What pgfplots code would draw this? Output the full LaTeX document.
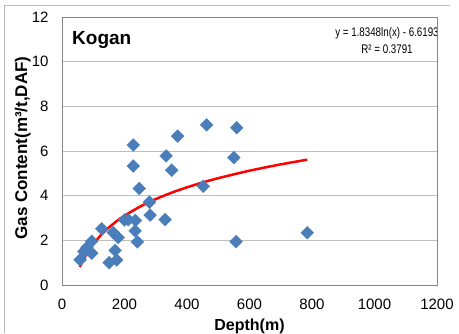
\documentclass[border=0pt]{standalone}
\usepackage{fontspec}
\setmainfont{Liberation Sans}
\newfontfamily\eqfont{Liberation Sans}[FakeStretch=0.78]
\usepackage{pgfplots}
\pgfplotsset{compat=1.18}
\definecolor{ptblue}{RGB}{74,126,187}
\definecolor{gridgray}{RGB}{190,190,190}
\definecolor{axgray}{RGB}{134,134,134}

\begin{document}
\begin{tikzpicture}
\path[use as bounding box] (-62pt,-48pt) rectangle (397pt,285pt);
% outer chart frame (only top and left are visible in the reference)
\draw[gray!55, line width=0.8pt] (388pt,280pt) -- (-58pt,280pt) -- (-58pt,-48pt);
\begin{axis}[
  scale only axis, width=375pt, height=268pt,
  xmin=0, xmax=1200, ymin=0, ymax=12,
  xtick={0,200,...,1200}, ytick={0,2,...,12},
  scaled ticks=false,
  /pgf/number format/1000 sep={},
  /pgf/number format/assume math mode=true,
  major tick length=0pt,
  ymajorgrids, grid style={gridgray, line width=0.8pt},
  axis line style={axgray, line width=0.8pt},
  ticklabel style={font=\fontsize{15}{18}\selectfont},
  xticklabel style={yshift=-10pt},
  yticklabel style={xshift=-10pt},
  xlabel={Depth(m)},
  ylabel={Gas Content(m³/t,DAF)},
  xlabel style={at={(rel axis cs:0.5,-0.168)}, anchor=base, font=\bfseries\fontsize{16}{19}\selectfont},
  ylabel style={at={(rel axis cs:-0.0933,0.511)}, anchor=base, font=\bfseries\fontsize{17}{20}\selectfont},
]
\addplot[only marks, mark=square*, mark size=4.5pt,
  mark options={rotate=45, fill=ptblue, draw=ptblue}] coordinates {
  (58,1.13) (70,1.50) (80,1.68) (95,1.96) (95,1.42)
  (127,2.52) (151,1.00) (164,2.35) (170,1.55) (175,1.12)
  (180,2.13) (200,2.91) (212,2.92) (235,2.89) (234,2.42)
  (241,1.93) (228,5.33) (228,6.27) (247,4.32) (280,3.71)
  (282,3.13) (330,2.93) (333,5.78) (351,5.14) (370,6.67)
  (452,4.42) (463,7.17) (550,5.70) (557,1.94) (559,7.04)
  (785,2.34)
};
% logarithmic trendline, values
\addplot[red, line width=2.5pt, no marks, smooth] coordinates {
  (57,0.799) (70,1.176) (85,1.532) (100,1.830) (125,2.240)
  (150,2.574) (175,2.857) (200,3.102) (250,3.512) (300,3.846)
  (350,4.129) (400,4.374) (450,4.590) (500,4.783) (600,5.118)
  (700,5.401) (785,5.611)
};
\node[anchor=base west, inner sep=0pt, font=\bfseries\fontsize{19}{22}\selectfont]
  at (axis cs:32,10.79) {Kogan};
\node[anchor=north, inner sep=0pt, align=center, font=\eqfont\fontsize{12.5}{17}\selectfont]
  at (axis cs:1040,11.56) {y = 1.8348ln(x) - 6.6193\\R² = 0.3791};
\end{axis}
\end{tikzpicture}
\end{document}
